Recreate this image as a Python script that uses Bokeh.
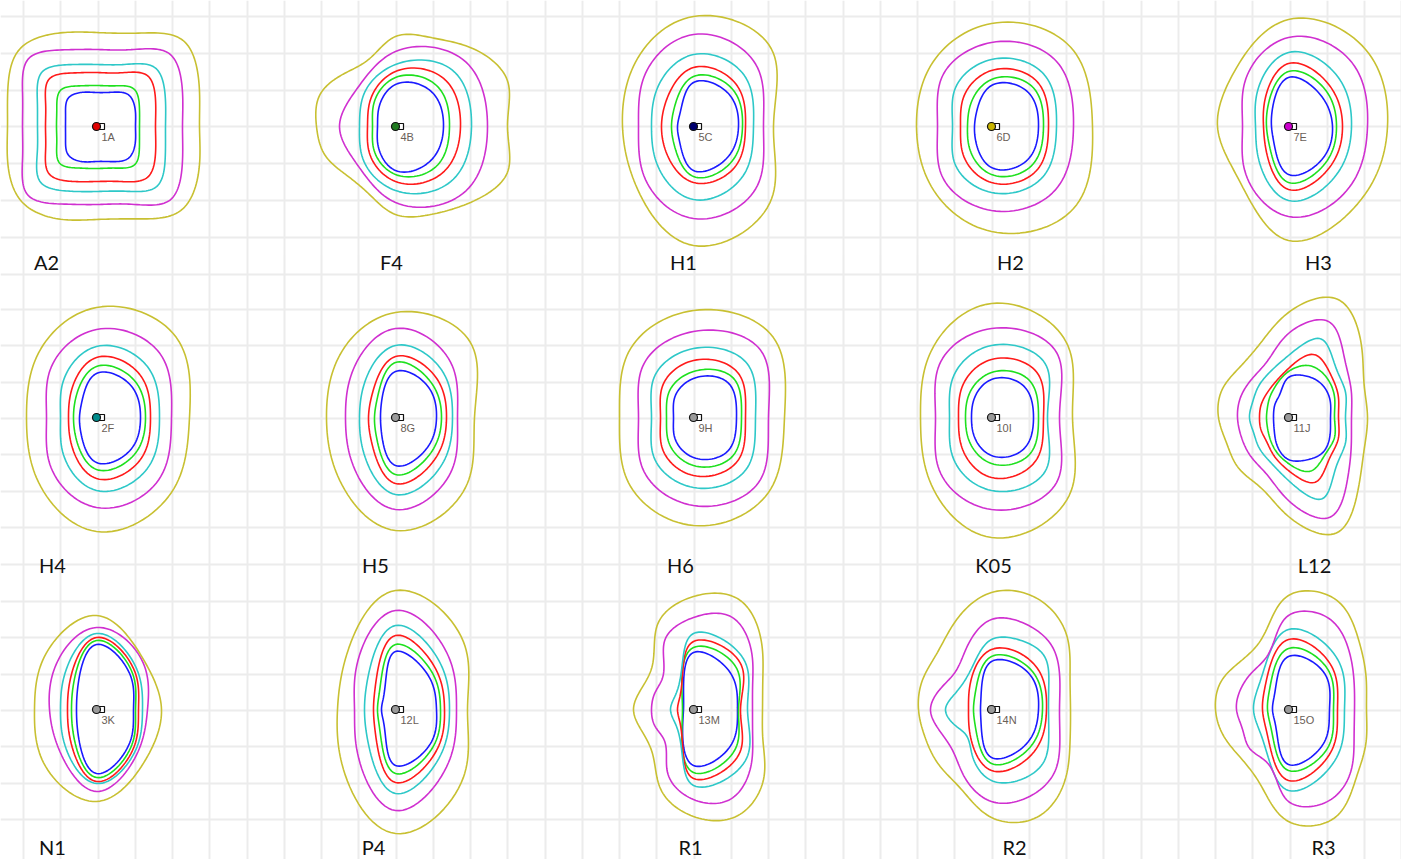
import numpy as np
from bokeh.plotting import figure
from bokeh.models import Range1d, Grid, FixedTicker, ColumnDataSource
from bokeh.core.properties import value
from bokeh.embed import file_html
from bokeh.resources import INLINE

# ---------------- data ----------------
panel_labels = ["A2", "F4", "H1", "H2", "H3",
                "H4", "H5", "H6", "K05", "L12",
                "N1", "P4", "R1", "R2", "R3"]
point_ids = ["1A", "4B", "5C", "6D", "7E",
             "2F", "8G", "9H", "10I", "11J",
             "3K", "12L", "13M", "14N", "15O"]
point_fill = ["#e00000", "#1f7a1f", "#000070", "#c8b400", "#cc00cc",
              "#008c8c", "#9a9a9a", "#9a9a9a", "#9a9a9a", "#9a9a9a",
              "#9a9a9a", "#9a9a9a", "#9a9a9a", "#9a9a9a", "#9a9a9a"]
level_names = ["blue", "green", "red", "cyan", "magenta", "yellow"]

# contour distance (px) from the point, read counter-clockwise starting East,
# at equal angular steps (8 values = 45 deg steps, 16 values = 22.5 deg steps)
r_A2 = [[39, 42, 45, 37, 34, 37, 40, 33.5, 31, 33.5, 40, 38, 35, 38, 45, 42],
        [43, 46.5, 53, 44, 41, 44, 51, 43, 40, 43, 52, 45, 42, 45, 54, 46.5],
        [59, 64, 72, 58, 54, 58, 67, 55, 51, 55, 67, 59.5, 55, 59.5, 72, 64],
        [69, 74.5, 83, 67, 62, 67, 77, 64, 59, 64, 79, 70, 65, 70, 85, 74.5],
        [86, 93, 103, 83, 77, 83, 96, 80, 74, 80, 97, 84, 78, 84, 104, 93],
        [103, 111, 122, 101, 94, 101, 109, 96, 89, 96, 106, 100, 93, 100, 119, 111]]
r_F4 = [[48, 50, 42, 24, 18, 25, 44, 49], [54, 58, 49, 31, 23, 31, 48, 57],
        [65, 68, 55, 36, 28, 37, 55, 66], [76, 80, 62, 45, 36, 46, 64, 78],
        [92, 95, 75, 54, 56, 54, 76, 95],
        [112, 121, 110, 96, 90, 72, 74, 82, 79, 76, 69, 72, 88, 95, 107, 121]]
r_H1 = [[45, 48, 44, 19, 16, 20, 44, 46], [49, 54, 50, 27, 22, 27, 50, 52],
        [52, 60, 59, 38, 32, 38, 56, 58], [60, 72, 72, 52, 42, 52, 73, 70],
        [70, 88, 92, 70, 55, 70, 92, 88], [80, 110, 110, 85, 71, 82, 119, 108]]
r_H2 = [[47, 50, 41, 21, 17, 22, 41, 49], [52, 57, 47, 30, 24, 31, 48, 56],
        [57, 64, 56, 40, 31, 40, 56, 63], [65, 74, 67, 52, 39, 52, 66, 72],
        [82, 92, 84, 70, 54, 70, 84, 90], [101, 112, 103, 86, 75, 85, 105, 116]]
r_H3 = [[44, 45, 49, 23, 17, 21, 48, 47], [48, 52, 55, 29, 22, 27, 56, 52],
        [54, 58, 63, 34, 25, 32, 63, 58], [63, 70, 74, 45, 33, 43, 74, 68],
        [79, 90, 89, 62, 46, 62, 90, 86], [99, 109, 107, 77, 71, 72, 114, 103]]
r_H4 = [[44, 47, 44, 21, 17, 22, 45, 47], [49, 53, 51, 29, 23, 29, 52, 53],
        [54, 61, 60, 36, 28, 36, 61, 61], [63, 72, 71, 48, 36, 48, 73, 72],
        [75, 90, 88, 66, 50, 66, 90, 88], [93, 113, 110, 85, 70, 85, 114, 106]]
r_H5 = [[41, 45, 46, 20, 15, 20, 48, 44], [46, 50, 55, 26, 21, 27, 57, 50],
        [51, 57, 61, 33, 27, 34, 66, 57], [57, 66, 72, 45, 36, 46, 77, 66],
        [62, 78, 89, 62, 50, 62, 92, 78], [79, 106, 105, 82, 69, 82, 113, 99]]
r_H6 = [[43, 49, 39, 27, 20, 27, 40, 48], [48, 56, 46, 35, 27, 35, 48, 55],
        [52, 63, 57, 44, 33, 44, 58, 62], [62, 76, 69, 56, 42, 56, 70, 74],
        [75, 95, 86, 72, 55, 72, 88, 92], [91, 113, 107, 92, 74, 92, 108, 106]]
r_K05 = [[42, 45, 38, 25, 20, 25, 38, 45], [47, 53, 45, 32, 26, 32, 46, 53],
         [52, 64, 58, 42, 33, 42, 60, 62], [56, 76, 72, 55, 42, 55, 73, 76],
         [68, 92, 89, 74, 56, 74, 92, 92], [81, 106, 114, 88, 71, 88, 120, 110]]
r_L12 = [[42, 45, 47, 45, 40, 24, 19, 16, 15, 16, 20, 30, 42, 46, 49, 45],
         [46, 50, 55, 56, 46, 34, 27, 23, 22, 23, 27, 35, 46, 58, 52, 50],
         [50, 54, 60, 68, 49, 37, 32, 30, 29, 30, 32, 40, 53, 70, 58, 54],
         [57, 62, 68, 85, 62, 49, 43, 39, 39, 38, 42, 48, 63, 88, 68, 62],
         [63, 68, 80, 104, 84, 59, 53, 52, 51, 51, 54, 60, 83, 108, 84, 68],
         [79, 82, 103, 128, 105, 78, 70, 72, 70, 67, 71, 75, 99, 125, 99, 82]]
r_N1 = [[37, 48, 65, 27, 20, 27, 64, 47], [39, 51, 69, 33, 25, 33, 68, 50],
        [42, 54, 72, 38, 29, 38, 72, 53], [46, 57, 76, 46, 36, 46, 74, 56],
        [51, 66, 82, 59, 47, 54, 82, 59], [65, 68, 94, 74, 62, 75, 92, 70]]
r_P4 = [[41, 47, 58, 17, 14, 17, 56, 49], [45, 52, 65, 23, 18, 23, 64, 53],
        [49, 57, 74, 29, 22, 29, 73, 58], [54, 64, 84, 40, 31, 40, 84, 64],
        [61, 75, 99, 56, 41, 55, 101, 75], [72, 96, 119, 71, 58, 76, 124, 96]]
r_R1 = [[44, 52, 57, 14, 10, 15, 56, 52], [45, 60, 62, 16, 11, 16, 63, 58],
        [47, 66, 68, 19, 16, 19, 69, 64], [54, 71, 76, 24, 23, 24, 76, 73],
        [59, 64, 82, 100, 92, 75, 44, 42, 42, 42, 42, 68, 90, 97, 81, 64],
        [69, 75, 96, 119, 113, 93, 59, 56, 60, 56, 59, 86, 107, 115, 99, 75]]
r_R2 = [[47, 52, 48, 15, 11, 15, 48, 49], [51, 56, 53, 23, 18, 23, 54, 54],
        [55, 62, 60, 31, 23, 31, 61, 60],
        [57, 62, 75, 75, 70, 48, 39, 40, 46, 40, 36, 50, 71, 76, 74, 62],
        [68, 74, 87, 92, 90, 66, 52, 55, 61, 56, 56, 72, 92, 95, 89, 74],
        [79, 85, 106, 120, 117, 95, 78, 75, 73, 72, 76, 84, 108, 117, 103, 85]]
r_R3 = [[41, 51, 53, 20, 16, 19, 55, 49], [45, 56, 61, 27, 21, 25, 61, 55],
        [49, 61, 70, 33, 26, 31, 71, 60], [56, 70, 80, 40, 35, 38, 81, 68],
        [66, 71, 85, 100, 94, 57, 52, 52, 52, 50, 55, 57, 92, 100, 88, 71],
        [78, 84, 99, 120, 114, 74, 68, 73, 73, 70, 68, 78, 112, 118, 96, 84]]

panel_radii = [r_A2, r_F4, r_H1, r_H2, r_H3, r_H4, r_H5, r_H6, r_K05, r_L12,
               r_N1, r_P4, r_R1, r_R2, r_R3]

# ---------------- layout / style ----------------
col_x = [96, 395, 693, 991, 1288]
row_y = [126, 417, 709]
label_x = [46, 391, 683, 1010, 1318, 52, 375, 680, 993, 1314, 52, 373, 690, 1014, 1323]
label_y = [261, 564, 846]
level_colors = {"blue": "#1a1aff", "green": "#1ee01e", "red": "#ff1a1a",
                "cyan": "#2ec8c8", "magenta": "#d030d0", "yellow": "#c8c032"}


def closed_contour(cx, cy, radii, n=16):
    """Closed periodic cubic spline (chord-length) through the read contour points."""
    r = np.asarray(radii, dtype=float)
    k = len(r)
    ang = np.arange(k) * 2 * np.pi / k
    P = np.stack([cx + r * np.cos(ang), cy - r * np.sin(ang)], axis=1)
    h = np.linalg.norm(np.roll(P, -1, axis=0) - P, axis=1)
    A = np.zeros((k, k))
    B = np.zeros((k, 2))
    for i in range(k):
        hp, hi = h[i - 1], h[i]
        A[i, (i - 1) % k] += hp
        A[i, i] += 2 * (hp + hi)
        A[i, (i + 1) % k] += hi
        B[i] = 6 * ((P[(i + 1) % k] - P[i]) / hi - (P[i] - P[i - 1]) / hp)
    M = np.linalg.solve(A, B)
    out = []
    for i in range(k):
        j = (i + 1) % k
        hi = h[i]
        s = np.linspace(0, hi, n, endpoint=False)[:, None]
        a = hi - s
        out.append(M[i] * a ** 3 / (6 * hi) + M[j] * s ** 3 / (6 * hi)
                   + (P[i] / hi - M[i] * hi / 6) * a + (P[j] / hi - M[j] * hi / 6) * s)
    out.append(P[:1])
    pts = np.vstack(out)
    return list(pts[:, 0]), list(pts[:, 1])


xs, ys, cols = [], [], []
px, py, pfill, pid, lx, ly, ltxt = [], [], [], [], [], [], []
for idx, radii in enumerate(panel_radii):
    cx = col_x[idx % 5]
    cy = row_y[idx // 5]
    for lev, rr in zip(level_names, radii):
        x, y = closed_contour(cx, cy, rr)
        xs.append(x)
        ys.append(y)
        cols.append(level_colors[lev])
    px.append(cx)
    py.append(cy)
    pfill.append(point_fill[idx])
    pid.append(point_ids[idx])
    lx.append(label_x[idx])
    ly.append(label_y[idx // 5])
    ltxt.append(panel_labels[idx])

W, H = 1401, 859
p = figure(width=W, height=H, output_backend="svg", toolbar_location=None,
           x_range=Range1d(0, W), y_range=Range1d(H, 0),
           x_axis_location=None, y_axis_location=None, min_border=0)
p.outline_line_color = None
p.background_fill_color = "white"
p.border_fill_color = "white"
for g in p.grid:
    g.visible = False

vx = list(23 + 37.25 * np.arange(0, 38))
hy = (list(16 + 36.8 * np.arange(0, 8)) + list(418 + 36.4 * np.arange(-3, 5))
      + list(710 + 36.4 * np.arange(-3, 4)))
p.add_layout(Grid(dimension=0, ticker=FixedTicker(ticks=vx),
                  grid_line_color="#ececec", grid_line_width=2))
p.add_layout(Grid(dimension=1, ticker=FixedTicker(ticks=hy),
                  grid_line_color="#ececec", grid_line_width=2))

src = ColumnDataSource(dict(xs=xs, ys=ys, color=cols))
p.multi_line(xs="xs", ys="ys", line_color="color", line_width=1.6, source=src)

psrc = ColumnDataSource(dict(x=px, y=py, fill=pfill, pid=pid,
                             sx=[v + 5 for v in px], tx=[v + 5 for v in px],
                             ty=[v + 10 for v in py]))
p.scatter(x="sx", y="y", marker="square", size=6, fill_color="white",
          line_color="#111111", line_width=1.2, source=psrc)
p.scatter(x="x", y="y", marker="circle", size=8, fill_color="fill",
          line_color="#111111", line_width=1.2, source=psrc)
p.text(x="tx", y="ty", text="pid", text_font=value("Liberation Sans"),
       text_font_size="11px", text_color="#6a6058", text_align="left",
       text_baseline="middle", source=psrc)

lsrc = ColumnDataSource(dict(x=lx, y=ly, t=ltxt))
p.text(x="x", y="y", text="t", text_font=value("Lato"), text_font_size="20px",
       text_color="#111111", text_align="center", text_baseline="middle", source=lsrc)

open("out.html", "w").write(file_html(p, INLINE))
